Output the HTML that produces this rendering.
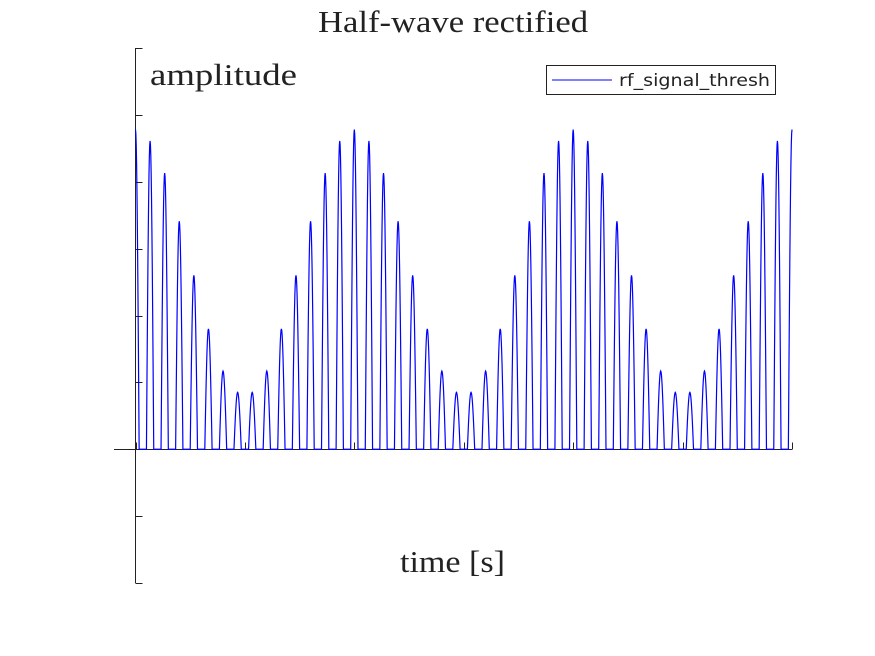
<!DOCTYPE html>
<html><head><meta charset="utf-8"><style>
body{margin:0;background:#fff;}
svg{display:block;}
</style></head><body>
<svg id="chart" width="875" height="656" viewBox="0 0 875 656" xmlns="http://www.w3.org/2000/svg">
<rect width="875" height="656" fill="#fff"/>
<text x="318" y="32" textLength="270" lengthAdjust="spacingAndGlyphs" font-family="Liberation Serif, serif" font-size="31" fill="#222">Half-wave rectified</text>
<g id="axes"></g>
<g id="series"></g>
<text x="150" y="85" textLength="147" lengthAdjust="spacingAndGlyphs" font-family="Liberation Serif, serif" font-size="31" fill="#222">amplitude</text>
<text x="400" y="572" textLength="105" lengthAdjust="spacingAndGlyphs" font-family="Liberation Serif, serif" font-size="31" fill="#222">time [s]</text>
<g>
<rect x="546.5" y="65.5" width="229" height="29" fill="#fff" stroke="#222" stroke-width="1"/>
<line x1="552" y1="80" x2="612" y2="80" stroke="#0000ff" stroke-width="1"/>
<text x="619" y="86" textLength="151" lengthAdjust="spacingAndGlyphs" font-family="DejaVu Sans, sans-serif" font-size="17" fill="#222">rf_signal_thresh</text>
</g>
</svg>
<script>
// peak amplitude of each carrier cycle (46 peaks over 45 cycles)
const peakValues = [4.78,4.61,4.13,3.41,2.60,1.80,1.17,0.85,0.85,1.17,1.80,2.60,3.41,4.13,4.61,
                    4.78,4.61,4.13,3.41,2.60,1.80,1.17,0.85,0.85,1.17,1.80,2.60,3.41,4.13,4.61,
                    4.78,4.61,4.13,3.41,2.60,1.80,1.17,0.85,0.85,1.17,1.80,2.60,3.41,4.13,4.61,4.78];
const yTicks = [-2,-1,0,1,2,3,4,5,6];
const xTicks = [0,1,2,3,4,5,6];
const xMin = 0, xMax = 45, yMin = -2, yMax = 6;
const NS = 'http://www.w3.org/2000/svg';
const L = 135.5, R = 792, T = 48, B = 583;
function xs(v){ return L + (v - xMin) / (xMax - xMin) * (R - L); }
function ys(v){ return B - (v - yMin) / (yMax - yMin) * (B - T); }
const axes = document.getElementById('axes');
function line(g,x1,y1,x2,y2,c,name){
  const l = document.createElementNS(NS,'line');
  l.setAttribute('x1',x1);l.setAttribute('y1',y1);l.setAttribute('x2',x2);l.setAttribute('y2',y2);
  l.setAttribute('stroke',c);l.setAttribute('stroke-width','1');
  
  
  g.appendChild(l);
}
line(axes,L,T,L,B,'#222','y-axis-line');
const y0 = Math.round(ys(0)) + 0.5;
line(axes,114,y0,R,y0,'#222','x-axis-line');
yTicks.forEach(v=>{ const y = Math.round(ys(v))+0.5; line(axes,L,y,L+7,y,'#222','y-tick'); });
xTicks.forEach(v=>{ const x = Math.round(xs(v*7.5))+0.5; line(axes,x,y0,x,y0-7,'#222','x-tick'); });
// series
const series = document.getElementById('series');
let d = '';
peakValues.forEach((a,i)=>{
  const N = 10;
  for(let k=-N;k<=N;k++){
    const ph = k/N*0.25;
    const t = i + ph;
    if(t < xMin || t > xMax) continue;
    const v = a*Math.cos(2*Math.PI*ph);
    d += (d? ' L':'M') + xs(t).toFixed(2) + ' ' + ys(Math.max(v,0)).toFixed(2);
  }
});
const p = document.createElementNS(NS,'path');
p.setAttribute('d', d);
p.setAttribute('fill','none');
p.setAttribute('stroke','#0000ff');
p.setAttribute('stroke-width','1.2');


series.appendChild(p);
</script>
</body></html>
